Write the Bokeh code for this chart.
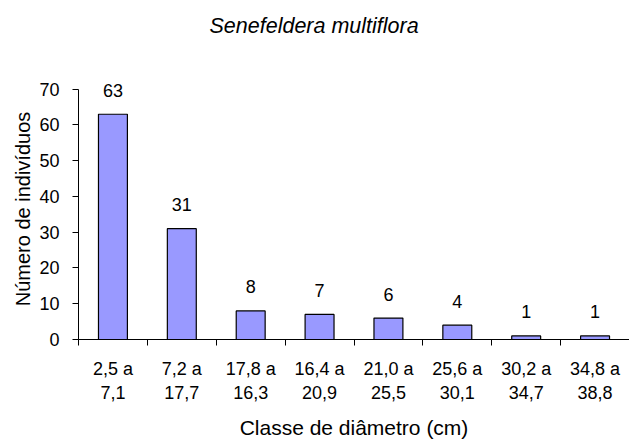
from bokeh.plotting import figure
from bokeh.models import ColumnDataSource, FixedTicker, Range1d, Title
from bokeh.core.properties import value
from bokeh.embed import file_html
from bokeh.resources import INLINE

# Diameter classes (cm) and number of individuals in each
classes = ["2,5 a\n7,1", "7,2 a\n17,7", "17,8 a\n16,3", "16,4 a\n20,9",
           "21,0 a\n25,5", "25,6 a\n30,1", "30,2 a\n34,7", "34,8 a\n38,8"]
counts = [63, 31, 8, 7, 6, 4, 1, 1]
y_ticks = [0, 10, 20, 30, 40, 50, 60, 70]

FONT = "Liberation Sans"

centers = [i + 0.5 for i in range(len(classes))]
src = ColumnDataSource(dict(x=centers, top=counts, label=[str(c) for c in counts]))

# y range runs a little past 70 so the top value label has room; the axis stops at 70
p = figure(width=629, height=446, x_range=Range1d(0, len(classes)), y_range=Range1d(0, 73),
           output_backend="svg", toolbar_location=None,
           min_border_left=78, min_border_right=0, min_border_top=78, min_border_bottom=107)

# empty spacer between the plot area and the title
p.add_layout(Title(text=" ", text_font_size="1px", standoff=38), "above")
p.title = Title(text="Senefeldera multiflora", align="left", offset=131,
                text_font=FONT, text_font_size="21.5px", text_font_style="italic",
                text_color="#000000", standoff=0)

p.vbar(x="x", top="top", width=0.42, source=src, fill_color="#9999FF",
       line_color="#000000", line_width=1.2)
p.text(x="x", y="top", text="label", source=src, text_align="center", text_baseline="alphabetic",
       y_offset=-24, text_font=value(FONT), text_font_size="18px", text_color="#000000")

p.grid.visible = False
p.outline_line_color = None

xa = p.xaxis[0]
xa.ticker = FixedTicker(ticks=centers, minor_ticks=list(range(len(classes) + 1)))
xa.major_label_overrides = {c: lab for c, lab in zip(centers, classes)}
xa.major_tick_out = 0
xa.major_tick_in = 0
xa.minor_tick_out = 6
xa.minor_tick_in = 0
xa.minor_tick_line_color = "#000000"
xa.axis_line_color = "#000000"
xa.major_label_text_font = FONT
xa.major_label_text_font_size = "18px"
xa.major_label_text_color = "#000000"
xa.major_label_standoff = 13
xa.axis_label = "Classe de diâmetro (cm)"
xa.axis_label_text_font = FONT
xa.axis_label_text_font_size = "21px"
xa.axis_label_text_font_style = "normal"
xa.axis_label_text_color = "#000000"
xa.axis_label_standoff = 10

ya = p.yaxis[0]
ya.ticker = FixedTicker(ticks=y_ticks)
ya.bounds = (0, 70)
ya.minor_tick_line_color = None
ya.major_tick_out = 6
ya.major_tick_in = 0
ya.major_tick_line_color = "#000000"
ya.axis_line_color = "#000000"
ya.major_label_text_font = FONT
ya.major_label_text_font_size = "18px"
ya.major_label_text_color = "#000000"
ya.major_label_standoff = 13
ya.axis_label = "Número de indivíduos"
ya.axis_label_text_font = FONT
ya.axis_label_text_font_size = "20px"
ya.axis_label_text_font_style = "normal"
ya.axis_label_text_color = "#000000"
ya.axis_label_standoff = 2

open("out.html", "w").write(file_html(p, INLINE))
